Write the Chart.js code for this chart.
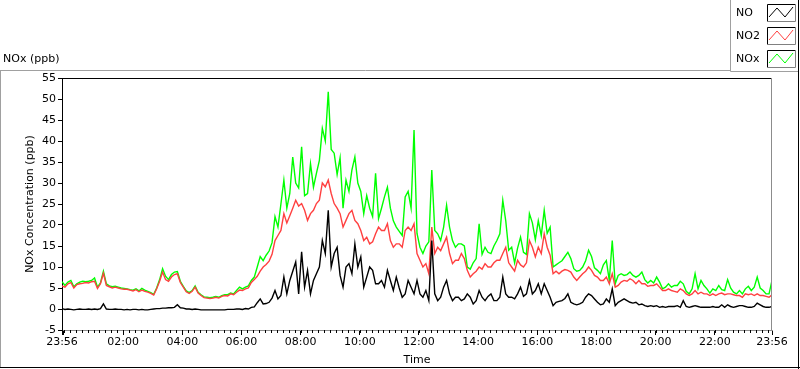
<!DOCTYPE html>
<html>
<head>
<meta charset="utf-8">
<script src="https://cdn.jsdelivr.net/npm/chart.js@4.4.1/dist/chart.umd.min.js"></script>
<style>
  html, body { margin: 0; padding: 0; background: #fff; }
  #wrap { width: 800px; height: 369px; }
</style>
</head>
<body>
<div id="wrap"><canvas id="noxChart" width="800" height="369"></canvas></div>
<script>
// one reading every 6 minutes, starting 23:56
const stepMinutes = 6;

const no = [
  0.1, -0.1, 0, -0.1, -0.2, -0.1, 0, -0.1, -0.1, 0,
  -0.1, 0, -0.1, 0.1, 1.2, 0, -0.1, -0.1, 0, -0.1,
  -0.1, -0.2, -0.1, -0.2, -0.1, -0.1, -0.2, -0.1, -0.2, -0.2,
  -0.1, 0, 0.1, 0.1, 0.2, 0.2, 0.3, 0.3, 0.4, 1.0,
  0.3, 0.2, 0, 0, -0.1, 0, -0.1, -0.2, -0.2, -0.2,
  -0.2, -0.2, -0.2, -0.2, -0.2, -0.2, -0.1, -0.1, -0.1, 0,
  0, -0.1, 0.1, 0, 0.4, 0.5, 1.5, 2.4, 1.2, 1.3,
  1.6, 2.6, 4.4, 2.4, 3.2, 7.6, 3.6, 6.8, 9.0, 11.2,
  3.6, 13.6, 5.2, 9.2, 3.6, 6.8, 8.4, 10.0, 16.3, 13.2,
  23.5, 10.0, 13.2, 14.7, 8.0, 5.2, 10.0, 10.8, 8.4, 15.5,
  10.0, 12.4, 5.2, 7.6, 10.0, 9.2, 6.0, 6.0, 6.8, 5.2,
  9.2, 6.8, 4.4, 7.6, 5.0, 2.8, 3.6, 6.8, 5.2, 3.6,
  6.8, 3.6, 2.8, 4.4, 2.0, 16.3, 3.6, 2.0, 2.8, 5.2,
  6.8, 3.6, 2.0, 2.8, 2.8, 2.0, 2.4, 3.6, 2.8, 1.2,
  2.0, 4.4, 2.8, 2.0, 3.0, 3.6, 2.0, 2.0, 2.8, 7.6,
  3.6, 2.8, 2.8, 2.4, 3.6, 5.2, 3.0, 3.6, 6.8, 3.6,
  4.4, 6.0, 3.6, 6.0, 4.4, 2.8, 0.8, 1.6, 1.8, 2.0,
  2.5, 3.6, 1.6, 1.2, 1.0, 1.2, 1.6, 2.8, 3.6, 3.2,
  2.4, 1.6, 1.0, 1.2, 2.4, 1.6, 4.8, 0.8, 1.6, 2.0,
  2.4, 2.0, 1.6, 1.4, 1.6, 1.0, 1.2, 0.8, 0.6, 0.8,
  0.6, 0.8, 0.4, 0.6, 0.4, 0.6, 0.6, 0.6, 0.8, 0.4,
  2.0, 0.6, 0.4, 0.6, 0.8, 0.6, 0.4, 0.4, 0.4, 0.4,
  0.6, 0.4, 0.4, 1.0, 0.4, 1.0, 0.6, 0.4, 0.6, 0.8,
  0.8, 0.6, 0.4, 0.4, 0.6, 1.4, 1.0, 0.6, 0.4, 0.4,
  0.6
];

const no2 = [
  5.5, 5.2, 6.0, 6.3, 5.0, 5.8, 6.0, 6.1, 6.3, 6.2,
  6.5, 6.6, 4.9, 6.0, 8.5, 5.6, 5.3, 5.0, 5.2, 5.0,
  4.8, 4.7, 4.7, 4.5, 4.3, 4.6, 4.1, 4.5, 4.2, 4.0,
  3.7, 3.3, 4.8, 6.6, 8.8, 7.0, 6.6, 7.6, 8.2, 8.4,
  6.3, 5.2, 4.1, 3.7, 4.2, 5.2, 3.8, 3.2, 2.7, 2.6,
  2.5, 2.6, 2.8, 2.6, 3.0, 3.2, 3.1, 3.6, 3.4, 4.0,
  4.5, 4.4, 4.8, 5.0, 6.3, 7.0, 7.8, 9.0, 10.0, 10.6,
  11.4, 13.0, 16.3, 17.5, 18.7, 22.7, 20.5, 22.2, 24.0, 25.9,
  24.5, 25.1, 23.5, 21.1, 22.7, 23.5, 25.1, 25.9, 30.0, 29.1,
  30.7, 27.5, 25.1, 24.0, 22.7, 19.5, 21.1, 22.7, 23.5, 21.1,
  20.3, 18.7, 16.3, 17.1, 15.5, 16.0, 17.9, 19.5, 18.7, 18.7,
  20.3, 16.3, 14.7, 15.5, 15.5, 14.7, 18.7, 19.5, 18.7, 20.3,
  13.2, 11.6, 10.0, 10.8, 8.4, 19.5, 13.2, 14.7, 13.9, 15.5,
  17.1, 13.2, 10.8, 11.6, 11.6, 13.2, 12.0, 9.2, 7.6, 8.4,
  9.0, 10.0, 9.5, 10.8, 10.0, 10.0, 11.0, 11.6, 11.6, 13.2,
  14.7, 11.0, 10.0, 9.0, 11.6, 10.5, 10.0, 11.0, 16.3, 14.7,
  12.4, 14.7, 13.2, 17.9, 14.7, 12.8, 8.4, 9.0, 8.4, 9.0,
  9.4, 9.2, 8.8, 7.6, 6.8, 7.6, 8.4, 9.0, 10.0, 9.2,
  8.0, 7.6, 6.8, 6.8, 7.6, 6.0, 8.4, 5.2, 5.6, 6.4,
  6.8, 6.6, 7.2, 6.8, 6.0, 6.8, 6.0, 6.0, 5.4, 5.6,
  5.6, 6.0, 5.2, 4.4, 4.4, 4.8, 4.4, 4.2, 4.0, 4.8,
  4.4, 3.6, 3.2, 3.6, 4.4, 3.6, 4.0, 3.6, 3.6, 3.2,
  3.6, 3.2, 3.6, 3.8, 3.4, 3.6, 3.6, 3.4, 3.2, 3.2,
  2.8, 3.6, 3.4, 3.6, 3.2, 3.6, 3.2, 3.2, 3.0, 2.8,
  3.4
];

const nox = [
  6.5, 5.6, 6.4, 6.8, 5.3, 6.0, 6.4, 6.6, 6.5, 6.6,
  6.8, 7.4, 5.2, 6.2, 9.0, 6.0, 5.5, 5.3, 5.4, 5.2,
  5.0, 4.9, 4.8, 4.6, 4.5, 4.8, 4.3, 4.9, 4.5, 4.2,
  3.9, 3.5, 5.0, 7.0, 9.6, 7.8, 7.0, 8.2, 8.8, 8.9,
  6.6, 5.4, 4.3, 3.9, 4.4, 5.5, 4.0, 3.4, 2.9, 2.8,
  2.7, 2.8, 3.0, 2.8, 3.2, 3.4, 3.4, 3.8, 3.6, 4.4,
  5.2, 4.8, 5.2, 5.5, 6.8, 7.6, 10.0, 12.5, 11.5, 12.8,
  13.8, 15.8, 22.0, 19.5, 25.0, 30.7, 24.0, 27.5, 36.2, 30.0,
  28.8, 38.6, 27.0, 27.5, 34.6, 29.0, 32.3, 35.4, 43.0, 40.0,
  51.7, 38.0, 37.1, 32.0, 36.0, 24.0, 30.7, 28.0, 33.1, 36.2,
  30.0, 28.0, 22.7, 27.0, 24.0, 22.0, 32.3, 21.5, 24.0, 26.7,
  29.0, 24.0, 21.0, 19.5, 18.5, 17.5, 26.7, 28.0, 24.0, 42.6,
  18.0, 14.7, 13.2, 15.0, 16.0, 33.1, 18.7, 17.9, 16.3, 19.5,
  24.7, 19.5, 16.3, 14.7, 15.5, 15.5, 15.0, 10.0, 9.5, 11.0,
  12.0, 20.3, 13.0, 14.7, 13.5, 13.2, 15.0, 16.3, 17.9, 25.9,
  21.0, 14.0, 14.7, 11.0, 14.5, 17.1, 13.5, 13.0, 22.7, 20.5,
  16.5, 21.0, 17.5, 23.5, 18.0, 19.5, 10.0, 10.5, 11.0, 11.5,
  12.5, 13.5, 12.0, 9.6, 9.0, 9.2, 10.0, 11.5, 14.0, 12.5,
  9.8, 9.2, 8.4, 10.5, 11.5, 6.8, 16.3, 6.0, 8.0, 8.4,
  8.0, 8.2, 8.8, 8.0, 7.6, 8.0, 8.8, 7.0, 6.2, 6.8,
  6.2, 7.6, 6.4, 4.8, 5.2, 6.0, 5.2, 5.6, 5.6, 6.6,
  6.0, 4.2, 3.6, 4.8, 8.4, 4.8, 6.8, 5.6, 4.8, 3.8,
  4.8, 4.4, 5.6, 4.6, 4.4, 7.0, 5.0, 4.0, 3.6, 4.4,
  3.6, 4.8, 5.4, 4.4, 5.2, 7.6, 5.0, 4.4, 3.6, 3.6,
  6.8
];

// labelled ticks, in minutes after 23:56
const xTickMinutes = [0, 4, 124, 244, 364, 484, 604, 724, 844, 964, 1084, 1204, 1324, 1440];
const xTickLabels = ['23:56', '', '02:00', '04:00', '06:00', '08:00', '10:00', '12:00',
  '14:00', '16:00', '18:00', '20:00', '22:00', '23:56'];

const font = { family: 'DejaVu Sans', size: 11 };

function toPoints(values) {
  return values.map((v, i) => ({ x: i * stepMinutes, y: v }));
}

const framePlugin = {
  id: 'labviewFrame',
  beforeDraw(chart) {
    const c = chart.ctx;
    c.save();
    c.fillStyle = '#fff';
    c.fillRect(0, 0, chart.width, chart.height);
    c.lineWidth = 1;
    // panel
    c.strokeStyle = '#a0a0a0';
    c.beginPath();
    c.moveTo(0, 70.5); c.lineTo(731, 70.5);
    c.moveTo(0.5, 70); c.lineTo(0.5, 368);
    c.stroke();
    c.strokeStyle = '#000';
    c.beginPath();
    c.moveTo(0, 367.5); c.lineTo(800, 367.5);
    c.moveTo(798.5, 70); c.lineTo(798.5, 369);
    c.stroke();
    c.fillStyle = '#000';
    c.font = '11px "DejaVu Sans"';
    c.textBaseline = 'middle';
    c.fillText('NOx (ppb)', 3, 59);
    c.restore();
  },
  afterDraw(chart) {
    const c = chart.ctx;
    const a = chart.chartArea;
    const x = chart.scales.x;
    c.save();
    c.lineWidth = 1;
    // top and right edges of the plot
    c.strokeStyle = '#000';
    c.beginPath();
    c.moveTo(a.left, Math.round(a.top) + 0.5); c.lineTo(a.right, Math.round(a.top) + 0.5);
    c.stroke();
    c.strokeStyle = '#8c8c8c';
    c.beginPath();
    c.moveTo(Math.round(a.right) - 0.5, a.top); c.lineTo(Math.round(a.right) - 0.5, a.bottom);
    c.stroke();
    // minor time ticks every 12 minutes
    c.strokeStyle = '#000';
    c.beginPath();
    for (let t = 4; t < 1440; t += 12) {
      const px = Math.round(x.getPixelForValue(t)) + 0.5;
      c.moveTo(px, a.bottom); c.lineTo(px, a.bottom + 3);
    }
    c.stroke();

    // legend box
    c.fillStyle = '#fff';
    c.fillRect(730, 0, 69, 71);
    c.strokeStyle = '#a0a0a0';
    c.beginPath();
    c.moveTo(730.5, 0); c.lineTo(730.5, 71.5); c.lineTo(799, 71.5);
    c.stroke();
    c.strokeStyle = '#000';
    c.beginPath();
    c.moveTo(798.5, 0); c.lineTo(798.5, 72);
    c.stroke();
    c.font = '11px "DejaVu Sans"';
    c.textBaseline = 'middle';
    chart.data.datasets.forEach((ds, i) => {
      const top = 4 + i * 23;
      c.fillStyle = '#000';
      c.fillText(ds.label, 736, top + 9);
      c.fillStyle = '#fff';
      c.fillRect(767, top, 29, 17);
      c.strokeStyle = '#000';
      c.beginPath();
      c.moveTo(767.5, top + 17); c.lineTo(767.5, top + 0.5); c.lineTo(796, top + 0.5);
      c.stroke();
      c.strokeStyle = '#808080';
      c.beginPath();
      c.moveTo(795.5, top); c.lineTo(795.5, top + 17.5); c.lineTo(767, top + 17.5);
      c.stroke();
      c.strokeStyle = ds.borderColor;
      c.beginPath();
      c.moveTo(769, top + 13);
      c.lineTo(777, top + 4);
      c.lineTo(785, top + 13);
      c.lineTo(793, top + 3);
      c.stroke();
    });
    c.restore();
  }
};

const ctx = document.getElementById('noxChart').getContext('2d');
new Chart(ctx, {
  type: 'line',
  data: {
    datasets: [{
      label: 'NO',
      data: toPoints(no),
      borderColor: '#000000',
      borderWidth: 1.4,
      pointRadius: 0,
      tension: 0
    },
    {
      label: 'NO2',
      data: toPoints(no2),
      borderColor: '#ff4040',
      borderWidth: 1.4,
      pointRadius: 0,
      tension: 0
    },
    {
      label: 'NOx',
      data: toPoints(nox),
      borderColor: '#00ff00',
      borderWidth: 1.4,
      pointRadius: 0,
      tension: 0
    }]
  },
  options: {
    responsive: false,
    animation: false,
    layout: { padding: { top: 78, right: 28, left: 0, bottom: 0 } },
    plugins: {
      legend: { display: false },
      tooltip: { enabled: false }
    },
    scales: {
      x: {
        type: 'linear',
        min: 0,
        max: 1440,
        afterFit: scale => { scale.height = 39; },
        afterBuildTicks: scale => { scale.ticks = xTickMinutes.map(v => ({ value: v })); },
        ticks: {
          autoSkip: false,
          maxRotation: 0,
          padding: 1,
          color: '#000',
          font: font,
          callback: (value, index) => xTickLabels[index]
        },
        grid: { drawOnChartArea: false, tickLength: 5, tickColor: '#000' },
        border: { color: '#8c8c8c', width: 1 },
        title: { display: true, text: 'Time', color: '#000', font: font, padding: { top: 0, bottom: 2 } }
      },
      y: {
        min: -5,
        max: 55,
        afterFit: scale => { scale.width = 62; },
        ticks: { stepSize: 5, padding: 2, color: '#000', font: font },
        grid: { drawOnChartArea: false, tickLength: 4, tickColor: '#000' },
        border: { color: '#000', width: 1 },
        title: { display: true, text: 'NOx Concentration (ppb)', color: '#000', font: font, padding: { top: 24 } }
      }
    }
  },
  plugins: [framePlugin]
});
</script>
</body>
</html>
